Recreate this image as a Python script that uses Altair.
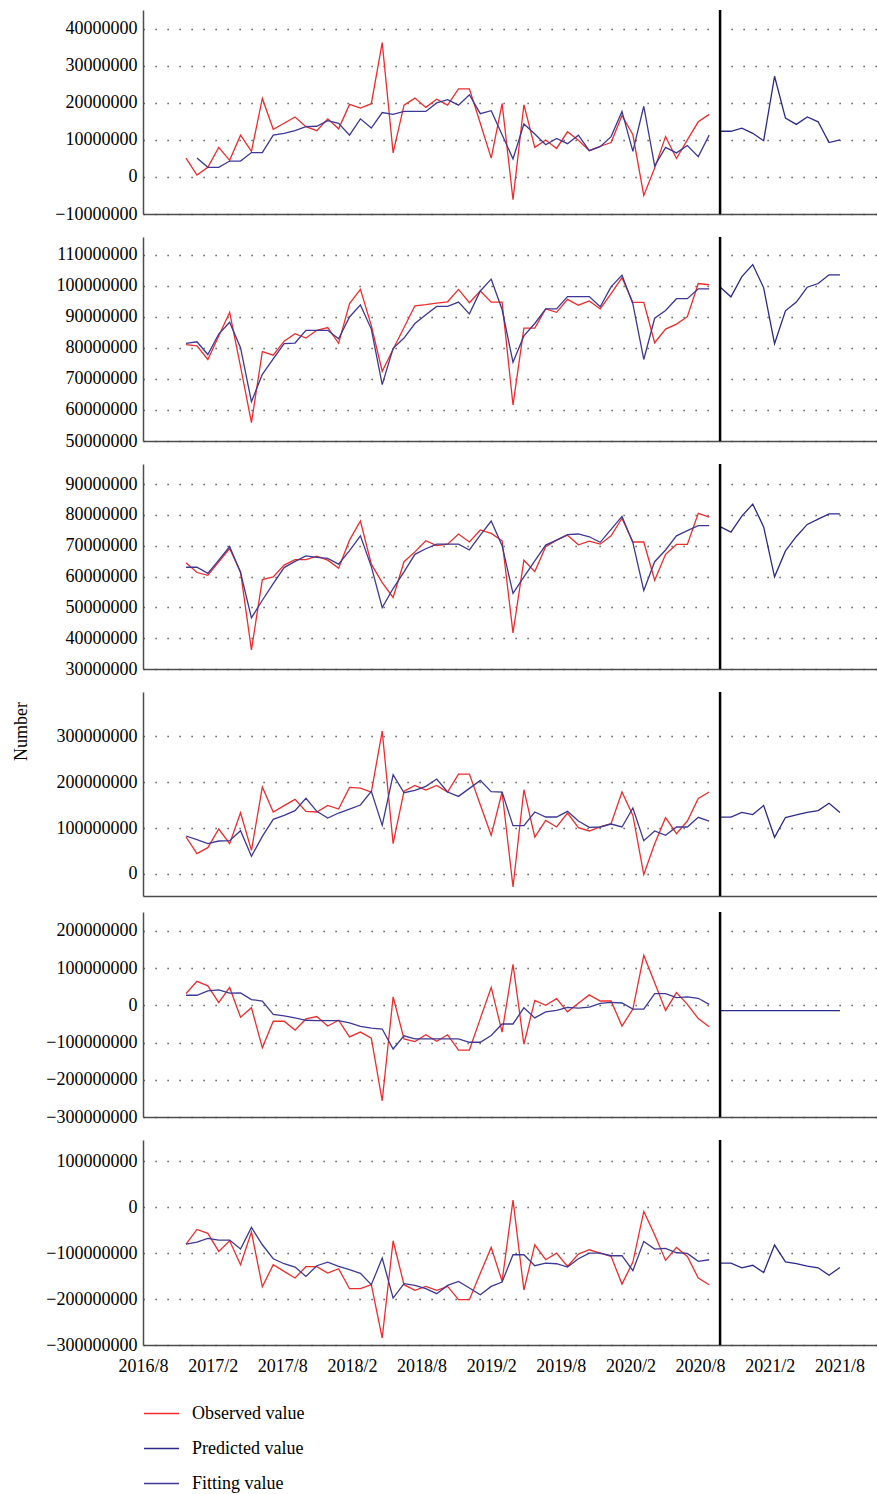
import altair as alt
import pandas as pd

M = 1_000_000  # values below are in millions

SERIES = ["Observed value", "Predicted value", "Fitting value"]
COLORS = ["#ee2c2c", "#2b2a8c", "#3d3896"]
TICK_LABELS = ["2016/8", "2017/2", "2017/8", "2018/2", "2018/8", "2019/2",
               "2019/8", "2020/2", "2020/8", "2021/2", "2021/8"]

# ---- panel 1 ----
obs1 = [5.1, 0.5, 2.6, 8.0, 4.5, 11.3, 6.9, 21.2, 12.9, 14.5, 16.2, 13.6, 12.5, 15.7, 13.0, 19.6, 18.6,
        19.8, 36.3, 6.5, 19.4, 21.3, 18.8, 21.0, 19.4, 23.8, 23.8, 14.5, 5.1, 19.8, -6.1, 19.5, 8.0, 10.0,
        7.7, 12.2, 9.9, 7.1, 8.3, 9.3, 16.6, 11.4, -5.0, 2.4, 10.9, 5.0, 10.0, 14.9, 16.9]
fit1 = [5.1, 2.6, 2.6, 4.3, 4.3, 6.6, 6.6, 11.3, 11.8, 12.5, 13.6, 13.7, 15.2, 14.5, 11.3, 15.7, 13.2,
        17.4, 16.9, 17.7, 17.7, 17.7, 20.0, 20.9, 19.4, 22.2, 17.1, 17.9, 11.4, 4.9, 14.3, 11.6, 8.7, 10.4,
        9.0, 11.3, 7.1, 8.2, 10.9, 17.7, 6.9, 19.1, 3.0, 8.0, 6.5, 8.5, 5.5, 11.3]
pred1 = [12.35, 12.35, 13.2, 11.8, 9.8, 27.2, 15.9, 14.2, 16.2, 14.9, 9.3, 10.0]

# ---- panel 2 ----
obs2 = [81.1, 80.7, 76.3, 83.9, 91.5, 74.0, 55.9, 78.8, 77.7, 82.2, 84.6, 83.2, 85.7, 86.6, 81.5, 94.3,
        98.9, 87.2, 72.5, 79.6, 86.6, 93.6, 94.0, 94.5, 94.9, 98.9, 94.6, 98.4, 94.8, 94.8, 61.6, 86.4,
        86.4, 92.6, 91.5, 95.7, 93.8, 95.2, 92.6, 97.5, 102.7, 94.7, 94.7, 81.7, 86.1, 87.7, 90.1, 100.8, 100.4]
fit2 = [81.5, 82.0, 77.9, 84.5, 88.3, 80.1, 62.7, 71.5, 76.5, 81.4, 81.6, 85.7, 85.7, 85.7, 83.0, 90.0,
        93.9, 86.1, 68.2, 79.9, 83.2, 87.9, 90.7, 93.4, 93.4, 94.8, 91.0, 98.4, 102.2, 92.4, 75.4, 83.9,
        87.9, 92.6, 92.6, 96.6, 96.6, 96.6, 93.3, 99.7, 103.5, 94.2, 76.3, 89.6, 92.1, 95.9, 95.9, 99.1, 99.1]
pred2 = [99.7, 96.5, 103.0, 106.9, 99.4, 81.4, 92.0, 94.8, 99.6, 100.8, 103.6, 103.6]

# ---- panel 3 ----
obs3 = [64.5, 61.3, 60.4, 64.8, 69.1, 61.5, 36.2, 59.0, 59.9, 63.7, 65.5, 65.5, 66.6, 65.3, 62.7, 71.8,
        78.0, 64.0, 58.0, 53.2, 64.8, 68.0, 71.6, 70.0, 70.5, 73.8, 71.2, 75.1, 74.0, 71.6, 41.7, 65.3,
        61.6, 69.7, 71.8, 73.4, 70.3, 71.5, 70.5, 73.2, 78.9, 71.2, 71.2, 58.8, 67.2, 70.4, 70.4, 80.5, 79.3]
fit3 = [63.0, 63.0, 61.0, 65.3, 69.7, 61.3, 46.6, 52.3, 57.7, 62.9, 64.9, 66.7, 66.2, 65.9, 64.0, 68.4,
        73.2, 63.2, 49.9, 56.1, 61.5, 67.2, 69.0, 70.5, 70.5, 70.5, 68.6, 73.4, 78.0, 70.0, 54.5, 59.9,
        65.1, 70.2, 71.8, 73.6, 73.8, 72.9, 71.1, 75.3, 79.5, 71.0, 55.5, 64.8, 68.6, 73.2, 74.9, 76.5, 76.5]
pred3 = [76.2, 74.4, 79.6, 83.5, 76.1, 59.9, 68.3, 73.0, 76.9, 78.6, 80.3, 80.3]

# ---- panel 4 ----
obs4 = [80.4, 44.2, 57.2, 97.8, 65.9, 133.3, 51.4, 189.1, 134.8, 148.6, 162.3, 136.2, 134.8, 149.3, 141.3,
        188.4, 187.0, 178.3, 310.9, 65.9, 180.4, 192.8, 182.6, 192.8, 178.3, 217.4, 217.4, 150.7, 84.1,
        178.3, -28.3, 183.3, 80.4, 116.7, 102.2, 132.6, 100.7, 93.5, 102.2, 109.4, 178.3, 127.5, -1.4,
        65.9, 122.5, 87.7, 115.2, 164.5, 178.3]
fit4 = [82.6, 74.6, 65.9, 71.7, 72.5, 94.2, 38.4, 81.9, 118.8, 127.5, 137.7, 164.5, 136.2, 121.7, 132.6,
        141.3, 150.0, 179.7, 105.8, 215.9, 176.8, 181.9, 190.6, 206.5, 178.3, 168.8, 186.2, 203.6, 179.0,
        178.3, 105.1, 105.1, 134.8, 123.9, 123.9, 136.2, 115.2, 101.4, 102.2, 108.7, 102.2, 143.5, 72.5,
        93.5, 84.1, 102.2, 102.2, 123.2, 115.2]
pred4 = [123.7, 123.7, 134.0, 129.3, 149.0, 79.7, 122.8, 128.4, 134.0, 137.8, 153.7, 134.0]

# ---- panel 5 ----
obs5 = [31.8, 64.5, 52.7, 7.3, 48.2, -31.8, -6.4, -113.6, -42.7, -42.7, -66.4, -36.4, -30.0, -55.5, -40.0,
        -84.5, -71.8, -88.2, -256.4, 22.7, -90.0, -97.3, -79.1, -96.4, -79.1, -120.0, -120.0, -35.5, 48.2,
        -71.8, 110.0, -104.5, 13.6, 0.0, 18.2, -17.3, 5.5, 28.2, 11.8, 11.8, -55.5, -10.0, 134.5, 61.0,
        -13.6, 34.5, 2.7, -35.5, -57.3]
fit5 = [27.3, 27.3, 39.1, 41.8, 32.7, 33.6, 15.5, 11.8, -24.5, -28.2, -33.6, -40.0, -40.9, -40.9, -40.9,
        -47.3, -56.4, -60.9, -63.6, -117.3, -81.8, -90.0, -90.0, -90.0, -90.0, -90.0, -99.1, -99.1, -80.9,
        -50.0, -50.0, -6.4, -33.6, -17.3, -13.6, -5.5, -7.3, -4.5, 5.5, 8.2, 6.4, -10.0, -10.0, 31.8, 31.8,
        20.9, 22.7, 19.1, 2.7]
pred5 = [-14.0, -14.0, -14.0, -14.0, -14.0, -14.0, -14.0, -14.0, -14.0, -14.0, -14.0, -14.0]

# ---- panel 6 ----
obs6 = [-80.4, -48.6, -57.2, -96.4, -73.2, -125.4, -54.3, -173.2, -125.4, -139.9, -154.3, -129.7, -129.7,
        -143.5, -134.1, -177.5, -177.5, -168.8, -284.8, -73.2, -168.8, -181.2, -172.5, -181.2, -172.5,
        -201.4, -201.4, -144.0, -87.7, -161.6, 15.2, -180.4, -81.9, -114.5, -100.0, -129.0, -102.2, -92.8,
        -100.0, -107.2, -167.4, -119.6, -9.4, -60.1, -115.9, -87.7, -107.2, -154.3, -168.8]
fit6 = [-80.4, -76.1, -68.1, -71.7, -71.7, -91.3, -44.2, -81.9, -112.3, -123.2, -130.4, -150.7, -127.5,
        -119.6, -129.0, -136.2, -144.2, -168.8, -110.9, -197.8, -166.7, -170.3, -177.5, -188.4, -170.3,
        -161.6, -176.1, -190.6, -172.5, -163.0, -103.6, -103.6, -127.5, -121.7, -123.2, -130.4, -112.3,
        -100.0, -100.0, -105.8, -105.8, -138.4, -74.6, -91.3, -89.9, -99.3, -100.7, -118.1, -114.5]
pred6 = [-121.8, -121.8, -132.1, -126.5, -142.5, -82.5, -119.0, -122.8, -128.4, -132.1, -148.1, -131.2]

# panel settings: (obs, fit, first fitted index, pred, y domain (M), y ticks (M), height)
PANELS = [
    (obs1, fit1, 1, pred1, [-10, 45.1], [-10, 0, 10, 20, 30, 40], 204),
    (obs2, fit2, 0, pred2, [50, 115.8], [50, 60, 70, 80, 90, 100, 110], 204),
    (obs3, fit3, 0, pred3, [30, 96.5], [30, 40, 50, 60, 70, 80, 90], 205),
    (obs4, fit4, 0, pred4, [-48, 396], [0, 100, 200, 300], 204),
    (obs5, fit5, 0, pred5, [-300, 251], [-300, -200, -100, 0, 100, 200], 205),
    (obs6, fit6, 0, pred6, [-300, 146], [-300, -200, -100, 0, 100], 205),
]

FIRST_PRED = 49          # month index where the forecast starts (vertical divider)
X_LEFT = -3.95           # month index at the "2016/8" label / left edge
X_RIGHT = 63.4
HALF_YEAR = 6.39         # index units between consecutive axis labels
tick_pos = [X_LEFT + k * HALF_YEAR for k in range(len(TICK_LABELS))]
label_expr = ("[" + ",".join(f"'{l}'" for l in TICK_LABELS) + "]"
              + f"[round((datum.value - ({X_LEFT})) / {HALF_YEAR})]")

FONT = "Liberation Serif"
legend = alt.Legend(orient="none", legendX=0, legendY=1385, direction="vertical", title=None,
                    symbolType="stroke", symbolSize=1225, symbolStrokeWidth=1.5,
                    labelFont=FONT, labelFontSize=18, labelOffset=12, rowPadding=7, labelLimit=300)


def panel(obs, fit, fit_start, pred, ydom, yticks, height, bottom, ytitle):
    rows = []
    for i, v in enumerate(obs):
        rows.append({"t": i, "v": v * M, "s": "Observed value"})
    for k, v in enumerate(fit):
        rows.append({"t": fit_start + k, "v": v * M, "s": "Fitting value"})
    for k, v in enumerate(pred):
        rows.append({"t": FIRST_PRED + k, "v": v * M, "s": "Predicted value"})
    df = pd.DataFrame(rows)

    if bottom:
        xaxis = alt.Axis(title=None, values=tick_pos, labelExpr=label_expr, ticks=False, grid=False,
                         labelPadding=12, labelFlush=False, labelOverlap=False)
    else:
        xaxis = alt.Axis(title=None, labels=False, ticks=False, grid=False)
    xenc = alt.X("t:Q", scale=alt.Scale(domain=[X_LEFT, X_RIGHT], nice=False, zero=False), axis=xaxis)

    if ytitle:
        yaxis = alt.Axis(title=ytitle, values=[t * M for t in yticks], format="d", ticks=False,
                         labelPadding=6, labelOverlap=False, titleX=-117, titleY=39,
                         titleBaseline="alphabetic", titleAlign="center")
    else:
        yaxis = alt.Axis(title=None, values=[t * M for t in yticks], format="d", ticks=False,
                         labelPadding=6, labelOverlap=False)
    yenc = alt.Y("v:Q", scale=alt.Scale(domain=[d * M for d in ydom], nice=False, zero=False), axis=yaxis)

    lines = alt.Chart(df).mark_line(strokeWidth=1.3).encode(
        x=xenc, y=yenc,
        color=alt.Color("s:N", scale=alt.Scale(domain=SERIES, range=COLORS), legend=legend),
        detail="s:N",
    )
    split = alt.Chart(pd.DataFrame({"t": [FIRST_PRED]})).mark_rule(color="black", strokeWidth=2.5).encode(
        x=alt.X("t:Q")
    )
    return alt.layer(lines, split).properties(width=734, height=height)


charts = []
for n, (o, f, fs, p, yd, yt, h) in enumerate(PANELS):
    charts.append(panel(o, f, fs, p, yd, yt, h, bottom=(n == len(PANELS) - 1),
                        ytitle="Number" if n == 3 else None))

chart = alt.vconcat(*charts, spacing=12).properties(
    padding={"left": 12, "top": 8, "right": 0, "bottom": 0}
).configure_view(stroke=None).configure_axis(
    labelFont=FONT, labelFontSize=18, labelColor="black",
    titleFont=FONT, titleFontSize=18, titleFontWeight="normal", titleColor="black",
    domainColor="#4d4d4d", domainWidth=1.5,
    gridColor="#333333", gridDash=[1.2, 10.8], gridWidth=1.3,
)

chart.save("out.html", embed_options={"renderer": "svg", "actions": False})
